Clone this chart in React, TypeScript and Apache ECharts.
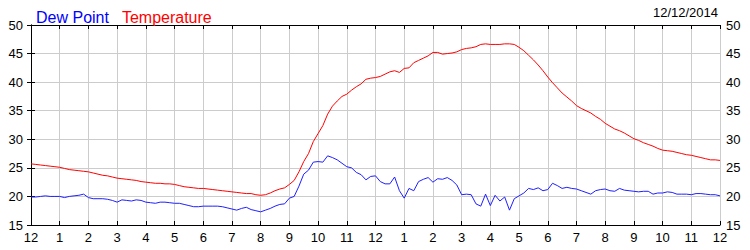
import React, { useEffect, useRef } from "react";
import * as echarts from "echarts";

// 10-minute readings from 12 AM to 12 AM next day (145 points)
const STEP_HOURS = 1 / 6;

const temperature = [
  25.7, 25.6, 25.5, 25.4, 25.3, 25.2,
  25.1, 24.9, 24.7, 24.6, 24.5, 24.4,
  24.3, 24.1, 23.9, 23.7, 23.6, 23.4,
  23.2, 23.1, 23.0, 22.9, 22.8, 22.6,
  22.5, 22.4, 22.3, 22.3, 22.2, 22.2,
  22.1, 21.9, 21.7, 21.6, 21.5, 21.4,
  21.4, 21.3, 21.2, 21.1, 21.0, 20.9,
  20.8, 20.7, 20.6, 20.5, 20.5, 20.3,
  20.2, 20.3, 20.6, 21.0, 21.3, 21.5,
  22.1, 22.8, 24.3, 26.1, 27.5, 29.6,
  31.0, 32.4, 34.4, 35.8, 36.7, 37.5,
  37.9, 38.6, 39.2, 39.7, 40.5, 40.7,
  40.8, 41.0, 41.4, 41.8, 42.0, 41.7,
  42.4, 42.5, 43.4, 43.8, 44.2, 44.6,
  45.2, 45.2, 44.9, 45.0, 45.1, 45.3,
  45.7, 45.9, 46.0, 46.2, 46.6, 46.7,
  46.6, 46.6, 46.6, 46.7, 46.7, 46.6,
  46.1, 45.5, 44.7, 43.9, 43.0, 42.0,
  40.9, 39.9, 39.0, 38.1, 37.4, 36.7,
  35.9, 35.4, 35.0, 34.6, 34.0, 33.5,
  32.8, 32.3, 31.8, 31.5, 31.1, 30.6,
  30.1, 29.8, 29.4, 29.1, 28.8, 28.4,
  28.1, 28.0, 27.9, 27.7, 27.5, 27.3,
  27.2, 27.0, 26.8, 26.6, 26.4, 26.4,
  26.3,
];

const dewPoint = [
  19.9, 19.9, 20.0, 20.1, 20.0, 20.0,
  20.0, 19.8, 20.0, 20.1, 20.2, 20.4,
  19.8, 19.6, 19.6, 19.6, 19.5, 19.3,
  19.0, 19.4, 19.3, 19.2, 19.4, 19.3,
  19.0, 18.9, 18.8, 19.0, 19.0, 18.9,
  18.8, 18.8, 18.6, 18.4, 18.2, 18.2,
  18.3, 18.3, 18.3, 18.3, 18.2, 18.0,
  17.8, 17.6, 17.9, 18.1, 17.7, 17.5,
  17.3, 17.6, 17.9, 18.3, 18.6, 18.7,
  19.7, 20.0, 21.8, 23.9, 24.6, 26.0,
  26.1, 26.0, 27.1, 26.8, 26.4, 25.8,
  25.2, 25.0, 24.2, 23.8, 22.9, 23.5,
  23.6, 22.6, 22.2, 22.2, 23.4, 21.0,
  19.7, 21.4, 21.0, 22.6, 23.0, 23.3,
  22.5, 23.1, 23.0, 23.3, 22.8, 22.0,
  20.3, 20.4, 20.3, 18.7, 18.3, 20.4,
  18.4, 20.2, 19.2, 19.9, 17.6, 19.6,
  20.1, 20.6, 21.4, 21.2, 21.5, 21.0,
  21.2, 22.3, 21.9, 21.4, 21.6, 21.4,
  21.3, 21.0, 20.7, 20.4, 21.0, 21.2,
  21.3, 21.0, 20.9, 21.4, 21.1, 21.0,
  20.9, 20.8, 20.9, 20.9, 20.4, 20.6,
  20.6, 20.8, 20.7, 20.4, 20.4, 20.4,
  20.3, 20.5, 20.5, 20.4, 20.3, 20.3,
  20.1,
];

const hourLabels = ["12", "1", "2", "3", "4", "5", "6", "7", "8", "9", "10", "11",
  "12", "1", "2", "3", "4", "5", "6", "7", "8", "9", "10", "11", "12"];
const seriesNames = ["Dew Point", "Temperature"];
const dateLabel = "12/12/2014";

const FONT = "'Liberation Sans', Arial, sans-serif";

export default function App() {
  const ref = useRef<HTMLDivElement>(null);
  useEffect(() => {
    document.body.style.margin = "0";
    if (!ref.current) return;
    const chart = echarts.init(ref.current, undefined, { renderer: "svg" });
    const toPairs = (arr: number[]) => arr.map((v, i) => [i * STEP_HOURS, v]);
    const gridLine = { show: true, lineStyle: { color: "#cccccc", width: 1 } };
    const axisLine = { show: true, lineStyle: { color: "#000000", width: 1 } };
    const tick = { show: true, inside: true, length: 4, lineStyle: { color: "#000000" } };
    const labelStyle = { color: "#000000", fontSize: 13, fontFamily: FONT };
    chart.setOption({
      animation: false,
      backgroundColor: "#ffffff",
      textStyle: { fontFamily: FONT },
      grid: { left: 31, right: 30, top: 25, bottom: 25, containLabel: false },
      legend: {
        left: 26,
        top: 4,
        icon: "none",
        itemWidth: 0,
        itemGap: 8,
        data: [
          { name: seriesNames[0], textStyle: { color: "#0000ff" } },
          { name: seriesNames[1], textStyle: { color: "#ff0000" } },
        ],
        textStyle: { fontSize: 16, fontFamily: FONT },
      },
      graphic: [
        {
          type: "text",
          right: 32,
          top: 6,
          style: { text: dateLabel, fill: "#000000", fontSize: 13, fontFamily: FONT },
        },
      ],
      xAxis: [
        {
          type: "value",
          min: 0,
          max: 24,
          interval: 1,
          position: "bottom",
          axisLine,
          axisTick: tick,
          splitLine: gridLine,
          axisLabel: {
            ...labelStyle,
            margin: 6,
            formatter: (v: number) => hourLabels[Math.round(v)] ?? "",
          },
        },
        {
          type: "value",
          min: 0,
          max: 24,
          interval: 1,
          position: "top",
          axisLine,
          axisTick: tick,
          splitLine: { show: false },
          axisLabel: { show: false },
        },
      ],
      yAxis: [
        {
          type: "value",
          min: 15,
          max: 50,
          interval: 5,
          position: "left",
          axisLine,
          axisTick: tick,
          splitLine: gridLine,
          axisLabel: { ...labelStyle, margin: 8 },
        },
        {
          type: "value",
          min: 15,
          max: 50,
          interval: 5,
          position: "right",
          axisLine,
          axisTick: tick,
          splitLine: { show: false },
          axisLabel: { ...labelStyle, margin: 6 },
        },
      ],
      series: [
        {
          name: seriesNames[0],
          type: "line",
          data: toPairs(dewPoint),
          showSymbol: false,
          symbol: "none",
          lineStyle: { color: "#1f1fff", width: 1 },
          itemStyle: { color: "#1f1fff" },
        },
        {
          name: seriesNames[1],
          type: "line",
          data: toPairs(temperature),
          showSymbol: false,
          symbol: "none",
          lineStyle: { color: "#ff0000", width: 1 },
          itemStyle: { color: "#ff0000" },
        },
      ],
    });
    return () => chart.dispose();
  }, []);
  return <div ref={ref} style={{ width: 750, height: 250 }} />;
}
